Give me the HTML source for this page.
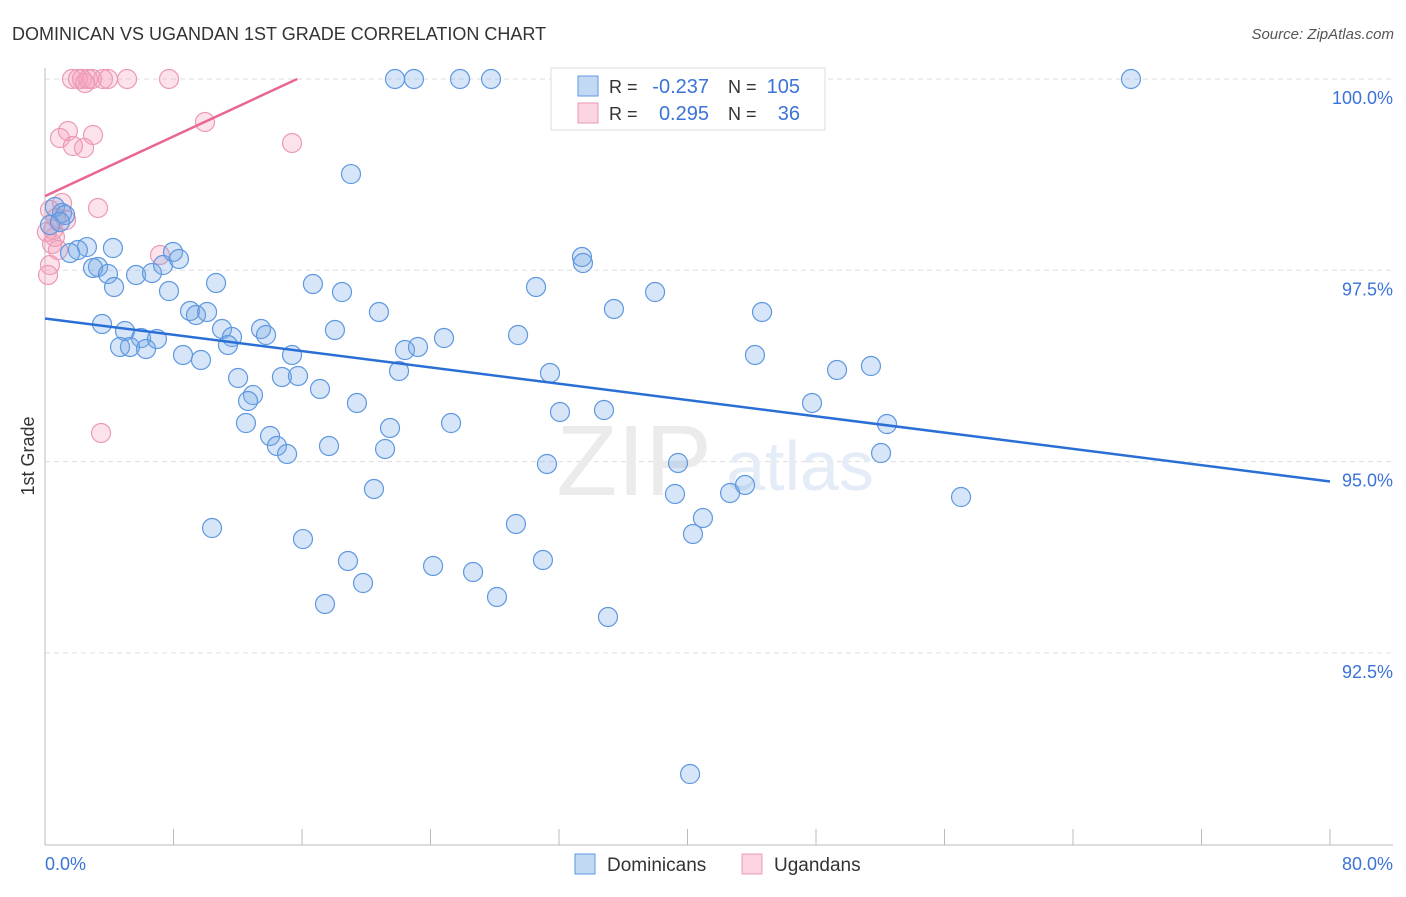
<!DOCTYPE html>
<html><head><meta charset="utf-8"><style>
body{margin:0;background:#fff;font-family:"Liberation Sans",sans-serif;}
svg text{font-family:"Liberation Sans",sans-serif;}
</style></head><body>
<svg id="c" width="1406" height="892"></svg>
<script>
const blueX=[], blueY=[], pinkX=[], pinkY=[];
const bluePx=[[395,79],[414,79],[460,79],[491,79],[567,79],[1131,79],[351,174],[55,207],[62,213],[65,215],[50,225],[87,247],[78,250],[70,253],[98,267],[93,268],[108,274],[114,287],[136,275],[152,273],[163,265],[173,252],[179,259],[216,283],[169,291],[190,311],[196,315],[207,312],[102,324],[125,331],[141,338],[157,339],[120,347],[130,347],[146,349],[183,355],[201,360],[222,329],[232,337],[228,345],[261,329],[266,335],[292,355],[313,284],[342,292],[335,330],[379,312],[444,338],[405,350],[418,347],[399,371],[238,378],[253,395],[248,401],[282,377],[298,376],[320,389],[357,403],[246,423],[270,436],[277,446],[287,454],[329,446],[390,428],[385,449],[451,423],[374,489],[212,528],[303,539],[348,561],[363,583],[325,604],[433,566],[473,572],[497,597],[516,524],[543,560],[547,464],[560,412],[550,373],[518,335],[536,287],[582,257],[583,263],[614,309],[655,292],[604,410],[608,617],[678,463],[675,494],[693,534],[703,518],[730,493],[745,485],[755,355],[762,312],[812,403],[837,370],[871,366],[887,424],[881,453],[961,497],[690,774],[113,248],[60,222]];
const pinkPx=[[72,79],[78,79],[82,79],[85,83],[88,79],[92,79],[103,79],[108,79],[127,79],[169,79],[205,122],[60,138],[68,131],[73,146],[84,148],[93,135],[292,143],[50,210],[56,218],[62,203],[66,220],[98,208],[55,237],[52,244],[50,265],[48,275],[160,255],[101,433],[53,230],[58,250],[47,232]];
bluePx.forEach(p=>{blueX.push(+((p[0]-45)/1285*80).toFixed(2));blueY.push(+(100-(p[1]-79)/191.3*2.5).toFixed(3));});
pinkPx.forEach(p=>{pinkX.push(+((p[0]-45)/1285*80).toFixed(2));pinkY.push(+(100-(p[1]-79)/191.3*2.5).toFixed(3));});
const blueTrend=[[0,96.87],[80,94.74]];
const pinkTrend=[[0,98.47],[15.7,100]];
const yTicks=[100,97.5,95,92.5];
const yTickLabels=["100.0%","97.5%","95.0%","92.5%"];

const X=v=>45+v/80*1285, Y=v=>79+(100-v)/2.5*191.3;
const s=document.getElementById('c'), NS="http://www.w3.org/2000/svg";
function mk(t,a,p){const e=document.createElementNS(NS,t);for(const k in a)e.setAttribute(k,a[k]);(p||s).appendChild(e);return e;}
function tx(x,y,str,a){const e=mk('text',Object.assign({x:x,y:y},a));e.textContent=str;return e;}

let e=tx(12,40,"DOMINICAN VS UGANDAN 1ST GRADE CORRELATION CHART",{'font-size':18,fill:'#333'});

e=tx(1394,39,"Source: ZipAtlas.com",{'font-size':15,fill:'#555','font-style':'italic','text-anchor':'end'});


yTicks.forEach((v,i)=>{
 const g=mk('line',{x1:45,x2:1393,y1:Y(v),y2:Y(v),stroke:'#ddd','stroke-dasharray':'5,4'});
 
 const l=tx(1393,Y(v)+25,yTickLabels[i],{'font-size':18,fill:'#3b73d8','text-anchor':'end'});
 
});
e=mk('line',{x1:45,x2:45,y1:68,y2:845,stroke:'#bbb'});
e=mk('line',{x1:45,x2:1393,y1:845,y2:845,stroke:'#bbb'});
for(let i=0;i<=10;i++){e=mk('line',{x1:X(i*8),x2:X(i*8),y1:829,y2:845,stroke:'#bbb'});}
e=tx(45,870,"0.0%",{'font-size':18,fill:'#3b73d8'});
e=tx(1393,870,"80.0%",{'font-size':18,fill:'#3b73d8','text-anchor':'end'});
e=tx(34,456,"1st Grade",{'font-size':18,fill:'#333','text-anchor':'middle',transform:'rotate(-90 34 456)'});
e=tx(634,495,"ZIP",{'font-size':100,fill:'#ebebeb','font-family':'Liberation Serif','text-anchor':'middle'});
e=tx(800,490,"atlas",{'font-size':70,fill:'#e3ecf7','text-anchor':'middle'});

pinkX.forEach((v,i)=>{const c=mk('circle',{cx:X(v),cy:Y(pinkY[i]),r:9.5,fill:'rgba(244,160,188,0.3)',stroke:'#ec9ab5','stroke-width':1.2});
 });
blueX.forEach((v,i)=>{const c=mk('circle',{cx:X(v),cy:Y(blueY[i]),r:9.5,fill:'rgba(120,170,230,0.3)',stroke:'#5f98e0','stroke-width':1.2});
 });
e=mk('line',{x1:X(blueTrend[0][0]),y1:Y(blueTrend[0][1]),x2:X(blueTrend[1][0]),y2:Y(blueTrend[1][1]),stroke:'#2a6fd6','stroke-width':2.5});

e=mk('line',{x1:X(pinkTrend[0][0]),y1:Y(pinkTrend[0][1]),x2:X(pinkTrend[1][0]),y2:Y(pinkTrend[1][1]),stroke:'#e86690','stroke-width':2.5});


e=mk('rect',{x:551,y:68,width:274,height:62,fill:'#fff',stroke:'#ddd'});
[[86,'rgba(120,170,230,0.45)','#5f98e0','-0.237','105'],[113,'rgba(244,160,188,0.45)','#ec9ab5','0.295','36']].forEach(r=>{
 let q=mk('rect',{x:578,y:r[0]-10,width:20,height:20,fill:r[1],stroke:r[2]});
 q=tx(609,r[0]+7,"R =",{'font-size':18,fill:'#333'});
 q=tx(709,r[0]+7,r[3],{'font-size':20,fill:'#3b73d8','text-anchor':'end'});
 q=tx(728,r[0]+7,"N =",{'font-size':18,fill:'#333'});
 q=tx(800,r[0]+7,r[4],{'font-size':20,fill:'#3b73d8','text-anchor':'end'});
});
[[575,'rgba(120,170,230,0.45)','#5f98e0','Dominicans'],[742,'rgba(244,160,188,0.45)','#ec9ab5','Ugandans']].forEach(r=>{
 let q=mk('rect',{x:r[0],y:854,width:20,height:20,fill:r[1],stroke:r[2]});
 q=tx(r[0]+32,871,r[3],{'font-size':19,fill:'#333'});
});
</script>
</body></html>
